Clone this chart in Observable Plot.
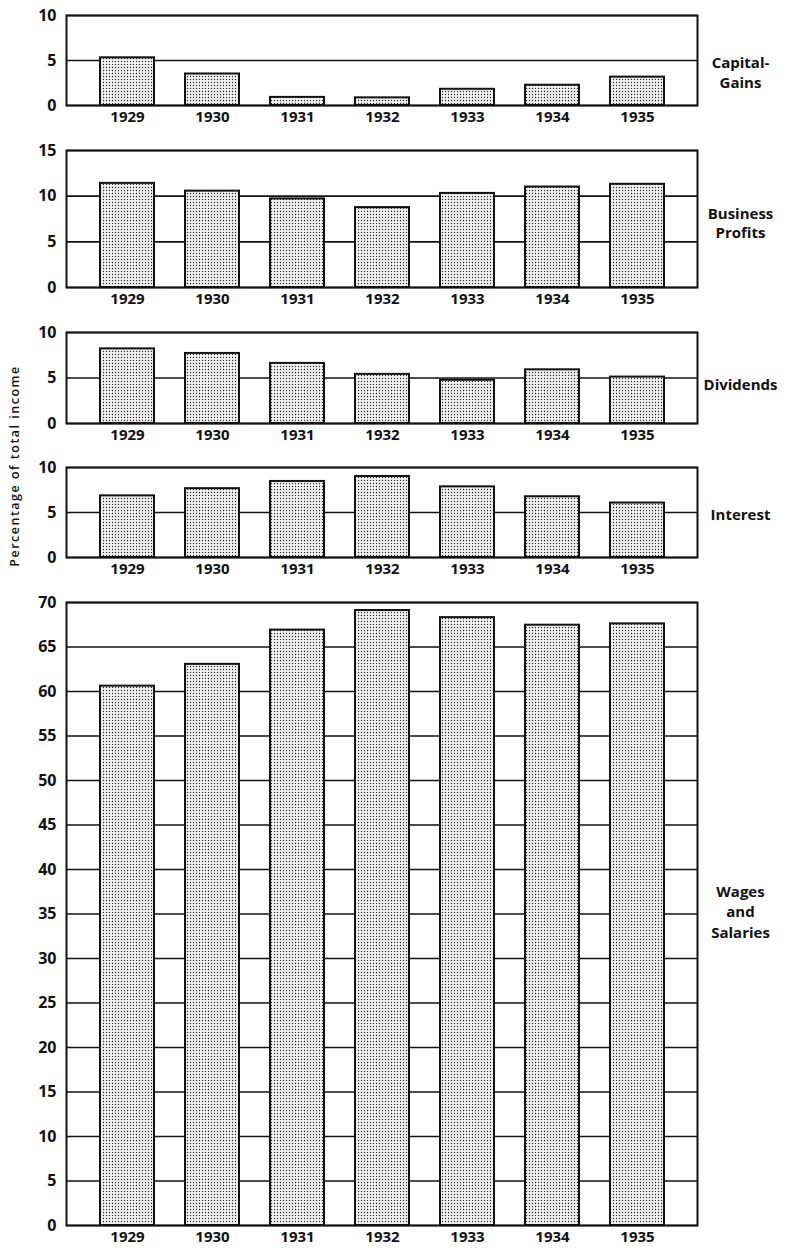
<!DOCTYPE html>
<html><head><meta charset="utf-8">
<script src="https://cdn.jsdelivr.net/npm/d3@7"></script>
<script src="https://cdn.jsdelivr.net/npm/@observablehq/plot@0.6"></script>
<style>
body{margin:0;background:#fff;}
#chart{position:relative;width:800px;height:1250px;font-family:"Open Sans",sans-serif;}
#chart svg{display:block;}
#ylabel{position:absolute;left:14px;top:466px;transform:translate(-50%,-50%) rotate(-90deg);font-size:12.5px;font-weight:600;letter-spacing:1.5px;white-space:nowrap;color:#111;}
</style></head><body><div id="chart"><div id="ylabel"></div></div>
<script>
const years = ["1929","1930","1931","1932","1933","1934","1935"];
const capitalGains = [5.3, 3.5, 0.9, 0.85, 1.8, 2.25, 3.15];
const businessProfits = [11.4, 10.55, 9.7, 8.75, 10.3, 11.0, 11.3];
const dividends = [8.2, 7.7, 6.6, 5.4, 4.75, 5.9, 5.1];
const interest = [6.85, 7.65, 8.45, 9.0, 7.85, 6.75, 6.05];
const wagesSalaries = [60.6, 63.05, 66.9, 69.1, 68.3, 67.45, 67.6];
const panelLabels = ["Capital-\nGains", "Business\nProfits", "Dividends", "Interest", "Wages\nand\nSalaries"];
const panelMax = [10, 15, 10, 10, 70];
const yAxisLabel = "Percentage of total income";

const series = [capitalGains, businessProfits, dividends, interest, wagesSalaries];
// layout: marginTop, plot height, marginBottom, label offset, line height
const layout = [
  {mt: 15, ph: 90, mb: 30, dy: 11, lh: 1.3},
  {mt: 15, ph: 137, mb: 30, dy: 3, lh: 1.3},
  {mt: 15, ph: 91, mb: 29, dy: 6, lh: 1.3},
  {mt: 15, ph: 90, mb: 30, dy: 1, lh: 1.3},
  {mt: 15, ph: 623, mb: 25, dy: -3, lh: 1.35}
];

document.getElementById("ylabel").textContent = yAxisLabel;
const chart = document.getElementById("chart");

series.forEach((vals, i) => {
  const L = layout[i];
  const data = years.map((year, j) => ({year, value: vals[j]}));
  const ticks = d3.range(0, panelMax[i] + 1, 5);
  const pid = "dots" + i;
  const svg = Plot.plot({
    width: 800,
    height: L.mt + L.ph + L.mb,
    marginTop: L.mt,
    marginBottom: L.mb,
    marginLeft: 66,
    marginRight: 103,
    style: {fontFamily: "'Open Sans', sans-serif", fontSize: "15px", fontWeight: 700, color: "#111", background: "white"},
    x: {type: "band", domain: years, padding: 0.37, label: null},
    y: {domain: [0, panelMax[i]], label: null},
    marks: [
      Plot.ruleY(ticks, {stroke: "#111", strokeWidth: 1.7}),
      Plot.barY(data, {x: "year", y: "value", fill: `url(#${pid})`, stroke: "#111", strokeWidth: 2}),
      Plot.frame({stroke: "#111", strokeWidth: 2}),
      Plot.axisY({ticks, tickSize: 0, tickPadding: 10, label: null, fontSize: 16}),
      Plot.axisX({tickSize: 0, tickPadding: 6, label: null, fontSize: 15}),
      Plot.text([panelLabels[i]], {frameAnchor: "right", dx: 43, dy: L.dy, textAnchor: "middle", lineAnchor: "middle", lineHeight: L.lh, fontSize: 15, fontWeight: 700, fill: "#111"})
    ]
  });
  const defs = d3.create("svg:defs");
  const pat = defs.append("pattern").attr("id", pid).attr("patternUnits", "userSpaceOnUse")
    .attr("width", 3).attr("height", 3);
  pat.append("rect").attr("width", 3).attr("height", 3).attr("fill", "#f2f2f2");
  pat.append("circle").attr("cx", 1.5).attr("cy", 1.5).attr("r", 0.7).attr("fill", "#2a2a2a");
  svg.insertBefore(defs.node(), svg.firstChild);
  chart.appendChild(svg);
});
</script>
</body></html>
